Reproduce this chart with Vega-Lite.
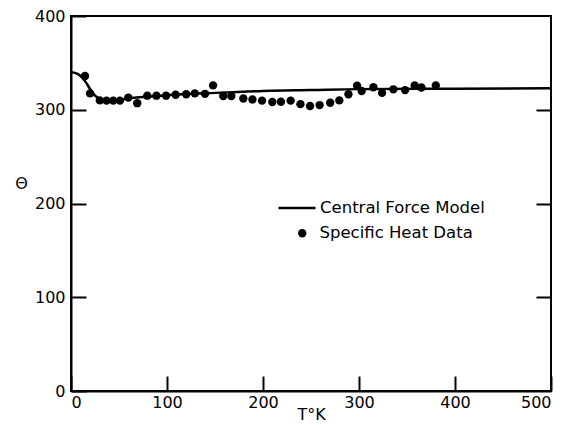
{
  "$schema": "https://vega.github.io/schema/vega-lite/v6.json",
  "width": 480,
  "height": 375,
  "autosize": "none",
  "padding": {"left": 71, "top": 16, "right": 20, "bottom": 34},
  "background": "white",
  "config": {
    "view": {"stroke": "black", "strokeWidth": 2},
    "font": "DejaVu Sans",
    "axis": {
      "labelFont": "DejaVu Sans",
      "labelFontSize": 16,
      "labelColor": "black",
      "titleColor": "black",
      "titleFont": "DejaVu Sans",
      "titleFontSize": 16,
      "titleFontWeight": "normal",
      "domainColor": "black",
      "domainWidth": 2,
      "tickColor": "black",
      "tickWidth": 2,
      "tickSize": -15,
      "grid": false
    },
    "legend": {
      "labelFont": "DejaVu Sans",
      "labelFontSize": 16.5,
      "labelColor": "black",
      "labelLimit": 0
    }
  },
  "data": {
    "values": [
      {"T": 0, "theta": 340, "series": "Central Force Model"},
      {"T": 5, "theta": 339, "series": "Central Force Model"},
      {"T": 10, "theta": 336, "series": "Central Force Model"},
      {"T": 15, "theta": 330, "series": "Central Force Model"},
      {"T": 20, "theta": 322, "series": "Central Force Model"},
      {"T": 25, "theta": 315, "series": "Central Force Model"},
      {"T": 30, "theta": 311.5, "series": "Central Force Model"},
      {"T": 35, "theta": 310, "series": "Central Force Model"},
      {"T": 40, "theta": 310, "series": "Central Force Model"},
      {"T": 50, "theta": 311, "series": "Central Force Model"},
      {"T": 75, "theta": 313.5, "series": "Central Force Model"},
      {"T": 100, "theta": 315.5, "series": "Central Force Model"},
      {"T": 150, "theta": 318, "series": "Central Force Model"},
      {"T": 200, "theta": 320, "series": "Central Force Model"},
      {"T": 250, "theta": 321, "series": "Central Force Model"},
      {"T": 300, "theta": 322, "series": "Central Force Model"},
      {"T": 400, "theta": 322.5, "series": "Central Force Model"},
      {"T": 500, "theta": 323, "series": "Central Force Model"},
      {"T": 14.6, "theta": 336, "series": "Specific Heat Data"},
      {"T": 19.8, "theta": 317.5, "series": "Specific Heat Data"},
      {"T": 30, "theta": 310, "series": "Specific Heat Data"},
      {"T": 37, "theta": 309.7, "series": "Specific Heat Data"},
      {"T": 44, "theta": 309.7, "series": "Specific Heat Data"},
      {"T": 51, "theta": 309.7, "series": "Specific Heat Data"},
      {"T": 59.7, "theta": 313, "series": "Specific Heat Data"},
      {"T": 69, "theta": 307, "series": "Specific Heat Data"},
      {"T": 79.5, "theta": 315, "series": "Specific Heat Data"},
      {"T": 89, "theta": 315, "series": "Specific Heat Data"},
      {"T": 99, "theta": 315, "series": "Specific Heat Data"},
      {"T": 109, "theta": 316, "series": "Specific Heat Data"},
      {"T": 120, "theta": 316.5, "series": "Specific Heat Data"},
      {"T": 129, "theta": 317.5, "series": "Specific Heat Data"},
      {"T": 139.6, "theta": 317, "series": "Specific Heat Data"},
      {"T": 148, "theta": 326, "series": "Specific Heat Data"},
      {"T": 158.6, "theta": 314.7, "series": "Specific Heat Data"},
      {"T": 167, "theta": 314.7, "series": "Specific Heat Data"},
      {"T": 179.5, "theta": 312, "series": "Specific Heat Data"},
      {"T": 189, "theta": 311, "series": "Specific Heat Data"},
      {"T": 199, "theta": 309.7, "series": "Specific Heat Data"},
      {"T": 209.7, "theta": 308.3, "series": "Specific Heat Data"},
      {"T": 218.7, "theta": 308.5, "series": "Specific Heat Data"},
      {"T": 228.8, "theta": 309.7, "series": "Specific Heat Data"},
      {"T": 239, "theta": 306, "series": "Specific Heat Data"},
      {"T": 249, "theta": 304, "series": "Specific Heat Data"},
      {"T": 259, "theta": 305, "series": "Specific Heat Data"},
      {"T": 270, "theta": 307.5, "series": "Specific Heat Data"},
      {"T": 279.5, "theta": 310, "series": "Specific Heat Data"},
      {"T": 289, "theta": 316.5, "series": "Specific Heat Data"},
      {"T": 298, "theta": 325.7, "series": "Specific Heat Data"},
      {"T": 302.8, "theta": 320, "series": "Specific Heat Data"},
      {"T": 315, "theta": 324, "series": "Specific Heat Data"},
      {"T": 324, "theta": 318, "series": "Specific Heat Data"},
      {"T": 335.8, "theta": 321.8, "series": "Specific Heat Data"},
      {"T": 348, "theta": 321, "series": "Specific Heat Data"},
      {"T": 358, "theta": 326, "series": "Specific Heat Data"},
      {"T": 365, "theta": 323.7, "series": "Specific Heat Data"},
      {"T": 380, "theta": 326, "series": "Specific Heat Data"}
    ]
  },
  "layer": [
    {
      "transform": [{"filter": "datum.series === 'Central Force Model'"}],
      "mark": {"type": "line", "strokeWidth": 2.5, "interpolate": "monotone"},
      "encoding": {
        "x": {"field": "T", "type": "quantitative", "scale": {"domain": [0, 500]},
              "axis": {"values": [0, 100, 200, 300, 400, 500], "title": "T°K", "labelPadding": 18, "titlePadding": -4}},
        "y": {"field": "theta", "type": "quantitative", "scale": {"domain": [0, 400]},
              "axis": {"values": [0, 100, 200, 300, 400], "title": "Θ", "titleAngle": 0, "titleX": -50, "titleY": 175, "labelPadding": 21}},
        "stroke": {"field": "series", "type": "nominal",
                   "scale": {"range": ["black"]},
                   "legend": {
                     "title": null,
                     "orient": "none",
                     "legendX": 206,
                     "legendY": 172,
                     "symbolType": "stroke",
                     "symbolSize": 1369,
                     "symbolStrokeWidth": 2.5,
                     "symbolStrokeColor": "black",
                     "labelOffset": 3
                   }}
      }
    },
    {
      "transform": [{"filter": "datum.series === 'Specific Heat Data'"}],
      "mark": {"type": "point", "filled": true, "size": 70, "opacity": 1},
      "encoding": {
        "x": {"field": "T", "type": "quantitative"},
        "y": {"field": "theta", "type": "quantitative",
              "axis": {"orient": "right", "labels": false, "title": null, "values": [100, 200, 300], "domain": false}},
        "fill": {"field": "series", "type": "nominal",
                 "scale": {"range": ["black"]},
                 "legend": {
                   "title": null,
                   "orient": "none",
                   "legendX": 223,
                   "legendY": 209,
                   "symbolType": "circle",
                   "symbolSize": 70,
                   "symbolOpacity": 1,
                   "labelOffset": 9
                 }}
      }
    }
  ],
  "resolve": {"axis": {"y": "independent"}}
}
